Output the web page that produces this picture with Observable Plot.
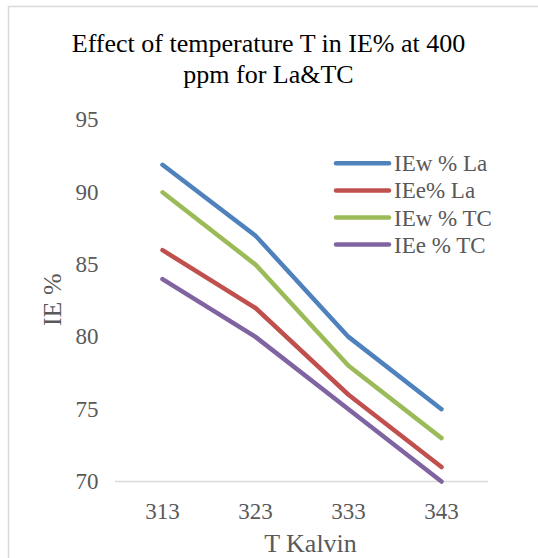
<!DOCTYPE html>
<html>
<head>
<meta charset="utf-8">
<script src="https://cdn.jsdelivr.net/npm/d3@7"></script>
<script src="https://cdn.jsdelivr.net/npm/@observablehq/plot@0.6"></script>
<style>
  html, body { margin: 0; padding: 0; background: #fff; }
  #chart { width: 538px; height: 558px; overflow: hidden; }
  #chart svg { display: block; }
  #chart svg, #chart svg text { font-family: "Liberation Serif", "Times New Roman", serif !important; }
</style>
</head>
<body>
<div id="chart"></div>
<script>
// ---- data ----
const temps = ["313", "323", "333", "343"];
const seriesNames = ["IEw % La", "IEe% La", "IEw % TC", "IEe % TC"];
const ieW_La = [91.9, 87, 80, 75];
const ieE_La = [86, 82, 76, 71];
const ieW_TC = [90, 85, 78, 73];
const ieE_TC = [84, 80, 75, 70];
const yTicks = [70, 75, 80, 85, 90, 95];
const colors = ["#4F81BD", "#C0504D", "#9BBB59", "#8064A2"];
const titleLines = ["Effect of temperature T in IE% at 400", "ppm for La&TC"];
const xTitle = "T Kalvin";
const yTitle = "IE %";

const allSeries = [ieW_La, ieE_La, ieW_TC, ieE_TC];
const rows = [];
allSeries.forEach((vals, si) => {
  vals.forEach((v, i) => rows.push({series: seriesNames[si], T: temps[i], IE: v}));
});

const W = 538, H = 558;
const font = "Liberation Serif";
const gray = "#595959";
const txt = {textAnchor: "middle", lineAnchor: "middle", fontFamily: font};

const plot = Plot.plot({
  width: W,
  height: H,
  marginLeft: 115,
  marginRight: 50,
  marginTop: 119.5,
  marginBottom: 77,
  style: {background: "#fff", overflow: "visible"},
  x: {type: "point", domain: temps, padding: 0.5},
  y: {domain: [70, 95]},
  color: {domain: seriesNames, range: colors},
  marks: [
    Plot.ruleY([70], {stroke: "#D9D9D9", strokeWidth: 1.5}),
    Plot.axisY({ticks: yTicks, tickSize: 0, tickPadding: 17, fontSize: 23, fontFamily: font, fill: gray, label: null}),
    Plot.axisX({tickSize: 0, tickPadding: 21, fontSize: 23, fontFamily: font, fill: gray, label: null}),
    Plot.line(rows, {x: "T", y: "IE", z: "series", stroke: "series", strokeWidth: 4.5,
      strokeLinecap: "round", strokeLinejoin: "round"}),
    Plot.text([titleLines[0]], {...txt, frameAnchor: "top", text: d => d, dx: -33.5, dy: -76, fontSize: 26, fill: "#000"}),
    Plot.text([titleLines[1]], {...txt, frameAnchor: "top", text: d => d, dx: -33.5, dy: -45.8, fontSize: 26, fill: "#000"}),
    Plot.text([xTitle], {...txt, frameAnchor: "bottom", text: d => d, dx: 8.5, dy: 62.4, fontSize: 26, fill: gray}),
    Plot.text([yTitle], {...txt, frameAnchor: "left", text: d => d, dx: -63.3, dy: -1, rotate: -90, fontSize: 26, fill: gray})
  ]
});

document.getElementById("chart").appendChild(plot);

// chart border & legend
const svg = d3.select(plot);
svg.insert("rect", ":first-child")
  .attr("x", 8.5).attr("y", 6.5).attr("width", 700).attr("height", 700)
  .attr("fill", "none").attr("stroke", "#D9D9D9").attr("stroke-width", 1.5);

const lg = svg.append("g").attr("font-family", font).attr("font-size", 23).attr("fill", gray)
  .attr("text-anchor", "start");
seriesNames.forEach((name, i) => {
  const y = 163.3 + i * 27.1;
  lg.append("line").attr("x1", 336).attr("x2", 389).attr("y1", y).attr("y2", y)
    .attr("stroke", colors[i]).attr("stroke-width", 4.5).attr("stroke-linecap", "round");
  lg.append("text").attr("x", 394).attr("y", y).attr("dy", "0.35em").attr("text-anchor", "start").text(name);
});
</script>
</body>
</html>
